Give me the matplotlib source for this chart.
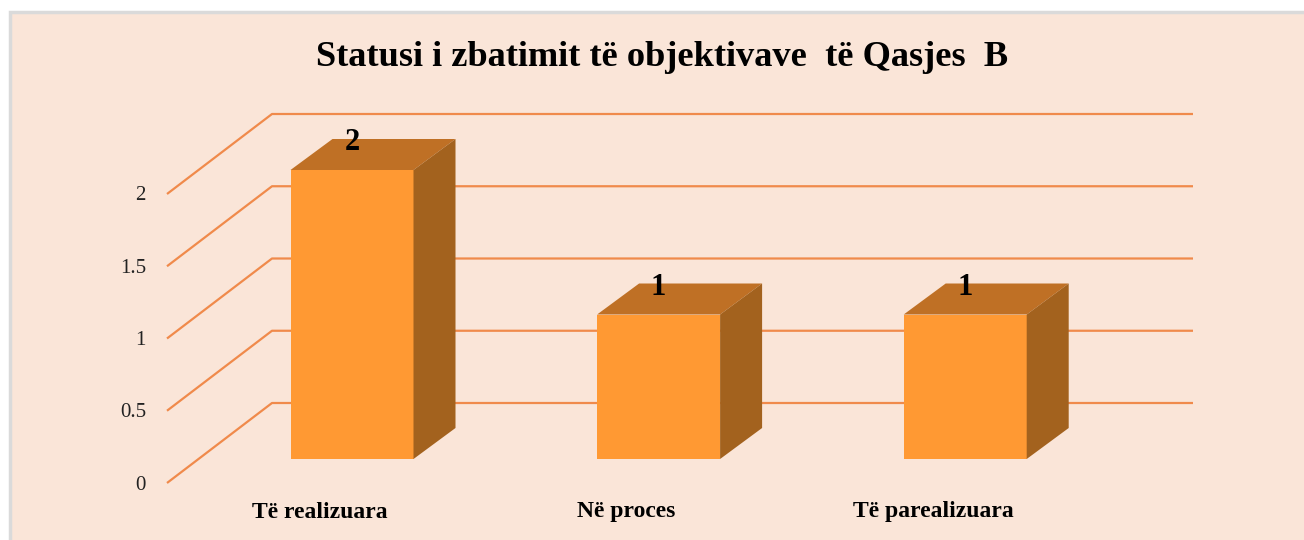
import matplotlib
matplotlib.use('Agg')
import matplotlib.pyplot as plt
from matplotlib.patches import Polygon, Rectangle

# Data
categories = ['Të realizuara', 'Në proces', 'Të parealizuara']
values = [2, 1, 1]
y_ticks = [0, 0.5, 1, 1.5, 2]
y_tick_labels = ['0', '0.5', '1', '1.5', '2']
title = 'Statusi i zbatimit të objektivave  të Qasjes  B'

W, H = 1304, 540
BAR_X0, BAR_Y0 = 352, 459   # pixel of first bar, front bottom centre
X_STEP, Y_STEP = 306.6, 144.5  # pixels per category / per unit

BG = '#FAE5D8'
GRID = '#F08A4B'
FRONT = '#FF9933'
TOP = '#BF7025'
SIDE = '#A3621E'

plt.rcParams['font.family'] = ['Liberation Serif', 'DejaVu Serif']

fig = plt.figure(figsize=(W / 100, H / 100), dpi=100, facecolor='white')
ax = fig.add_axes([0, 0, 1, 1])
# scale: x in category units, y in chart values, same origin as the bars
ax.set_xlim(-BAR_X0 / X_STEP, (W - BAR_X0) / X_STEP)
ax.set_ylim((BAR_Y0 - H) / Y_STEP, BAR_Y0 / Y_STEP)
ax.axis('off')


def px(dx):
    return dx / X_STEP


def py(dy):
    return dy / Y_STEP


# panel background with its grey edge
ax.add_patch(Rectangle((px(10 - BAR_X0), py(BAR_Y0 - H - 5)), px(W), py(H - 7), facecolor=BG,
                       edgecolor='#DADADA', linewidth=2.5, zorder=0))

# gridlines: floor/wall diagonal then the back wall
for t in y_ticks:
    front_y = t + py(459 - 483)
    back_y = t + py(459 - 403)
    xs = [px(167 - BAR_X0), px(272 - BAR_X0), px(1193 - BAR_X0)]
    ax.plot(xs, [front_y, back_y, back_y], color=GRID, lw=1.6, zorder=1, solid_capstyle='butt')

# 3D bars
half = px(61.5)
dx, dy = px(42), py(31)
for i, v in enumerate(values):
    ax.add_patch(Rectangle((i - half, 0), 2 * half, v, facecolor=FRONT, edgecolor='none', zorder=3))
    ax.add_patch(Polygon([(i - half, v), (i + half, v), (i + half + dx, v + dy), (i - half + dx, v + dy)],
                         facecolor=TOP, edgecolor='none', zorder=3))
    ax.add_patch(Polygon([(i + half, 0), (i + half + dx, dy), (i + half + dx, v + dy), (i + half, v)],
                         facecolor=SIDE, edgecolor='none', zorder=3))
    ax.text(i, v + py(27), str(v), ha='center', va='center', fontsize=22, fontweight='bold',
            color='black', zorder=4)
    ax.text(i - px(32), py(459 - 512), categories[i], ha='center', va='center', fontsize=17,
            fontweight='bold', color='black', zorder=4)

for t, lab in zip(y_ticks, y_tick_labels):
    ax.text(px(146 - BAR_X0), t + py(459 - 485), lab, ha='right', va='center', fontsize=15,
            color='#222222', zorder=4)

ax.text(px(662 - BAR_X0), py(459 - 58), title, ha='center', va='center', fontsize=26.2,
        fontweight='bold', color='black', zorder=4)

fig.savefig('out.png', dpi=100, facecolor='white')
